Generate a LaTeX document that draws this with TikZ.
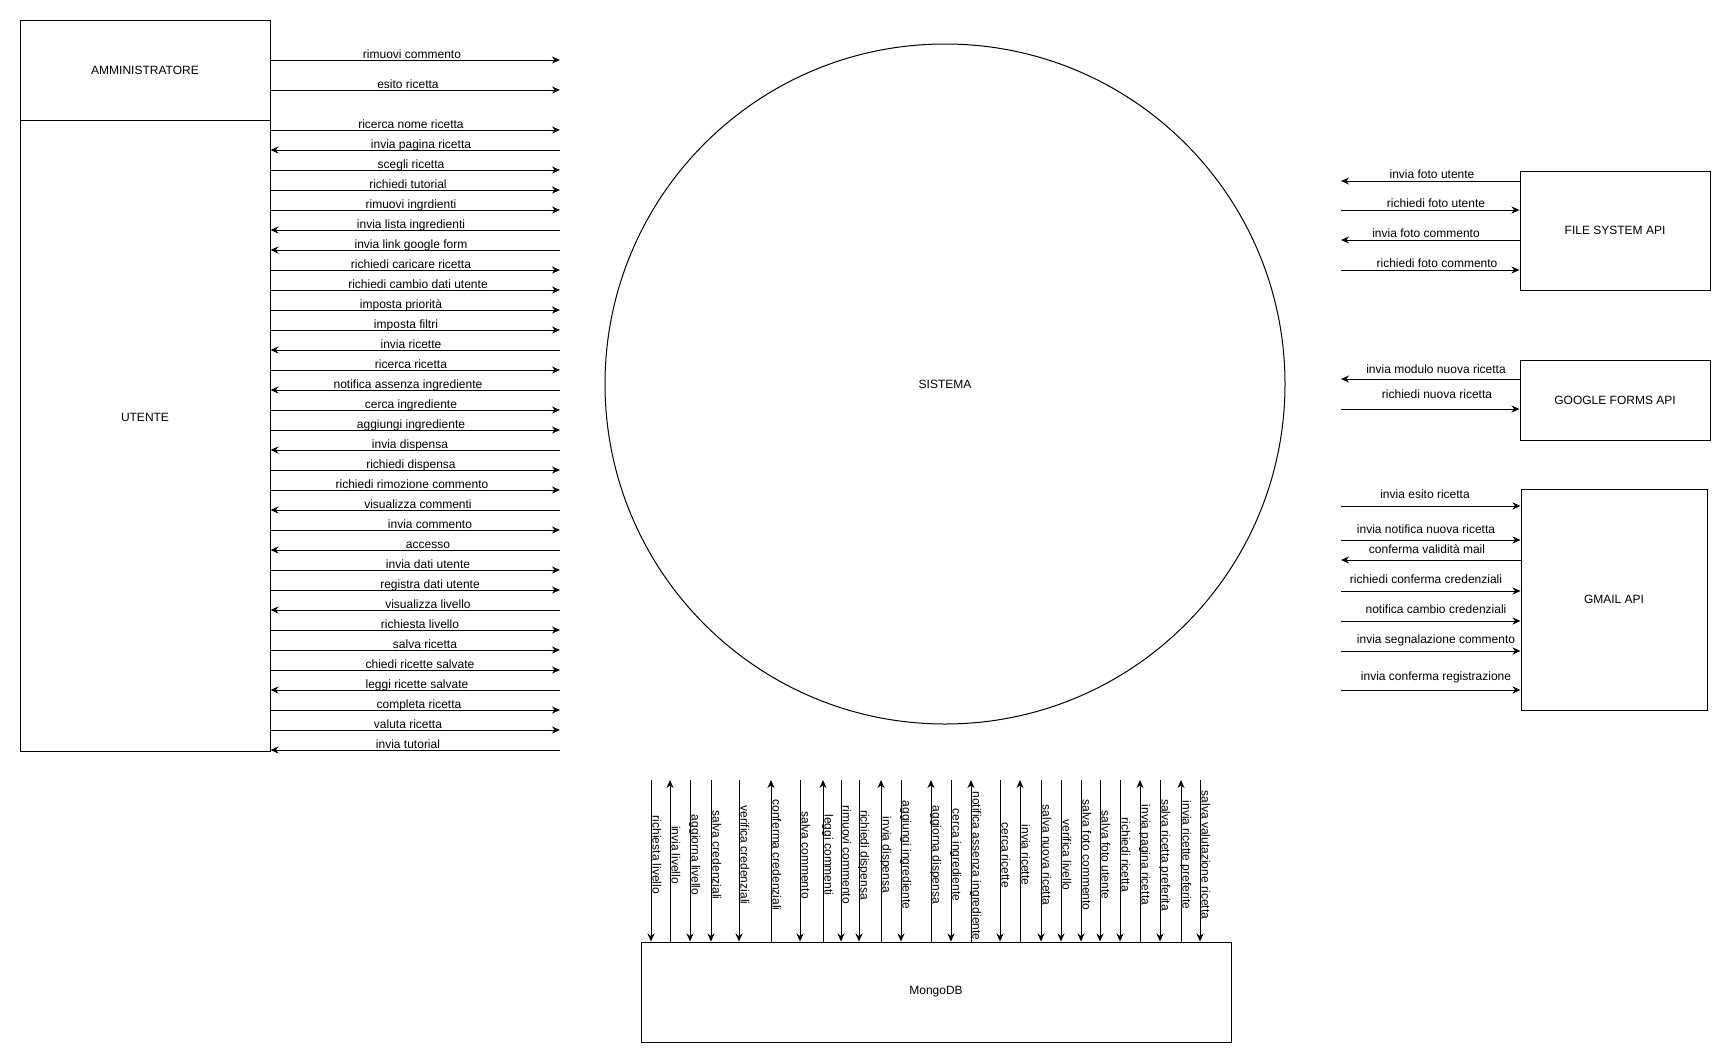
\documentclass[tikz,border=0pt]{standalone}
\usepackage{fontspec}
\setmainfont{Liberation Sans}
\usetikzlibrary{arrows.meta}
\tikzset{
  txt/.style={font=\fontsize{12}{14}\selectfont},
  box/.style={txt,draw=black,line width=1pt,fill=white,align=center,inner sep=0pt},
  fwd/.style={draw=black,line width=1pt,-{Stealth[length=8pt,width=7pt]}},
  rev/.style={draw=black,line width=1pt,{Stealth[length=8pt,width=7pt]}-},
  lbl/.style={txt,anchor=base,inner sep=0pt},
  vlbl/.style={lbl,rotate=-90}
}

\begin{document}
\begin{tikzpicture}[x=1pt,y=-1pt]
  \useasboundingbox (0,0) rectangle (1731,1063);
  \node[box,minimum width=250pt,minimum height=100pt] (admin) at (145,70) {AMMINISTRATORE};
  \node[box,minimum width=250pt,minimum height=631pt] (utente) at (145,435.5) {};
  \node[txt] (utentetxt) at (145,417) {UTENTE};
  \node[box,circle,minimum size=680pt] (sistema) at (945,384) {SISTEMA};
  \node[box,minimum width=190pt,minimum height=119pt] (filesys) at (1615,230.5) {FILE SYSTEM API};
  \node[box,minimum width=190pt,minimum height=80pt] (gforms) at (1615,400) {GOOGLE FORMS API};
  \node[box,minimum width=186pt,minimum height=221pt] (gmail) at (1614,599.5) {GMAIL API};
  \node[box,minimum width=590pt,minimum height=100pt] (mongo) at (936,992) {MongoDB};

  \foreach \yy/\xc/\t [count=\i] in {60/412/rimuovi commento,90/408/esito ricetta}{
    \coordinate (as\i) at (560,\yy);
    \coordinate (aa\i) at (admin.east |- as\i);
    \draw[fwd] (aa\i) -- (as\i);
    \node[lbl] (al\i) at (\xc,{\yy-1.5}) {\t};
  }

  \foreach \d/\xc/\t [count=\i] in {
    fwd/411/ricerca nome ricetta, rev/421/invia pagina ricetta, fwd/411/scegli ricetta,
    fwd/408/richiedi tutorial, fwd/411/rimuovi ingrdienti, rev/411/invia lista ingredienti,
    rev/411/invia link google form, fwd/411/richiedi caricare ricetta,
    fwd/418/richiedi cambio dati utente, fwd/401/imposta priorità, fwd/406/imposta filtri,
    rev/411/invia ricette, fwd/411/ricerca ricetta, rev/408/notifica assenza ingrediente,
    fwd/411/cerca ingrediente, fwd/411/aggiungi ingrediente, rev/410/invia dispensa,
    fwd/411/richiedi dispensa, fwd/412/richiedi rimozione commento,
    rev/418/visualizza commenti, fwd/430/invia commento, rev/428/accesso,
    fwd/428/invia dati utente, fwd/430/registra dati utente, rev/428/visualizza livello,
    fwd/420/richiesta livello, fwd/425/salva ricetta, fwd/420/chiedi ricette salvate,
    rev/417/leggi ricette salvate, fwd/419/completa ricetta, fwd/408/valuta ricetta,
    rev/408/invia tutorial}{
    \coordinate (us\i) at (560,{110+20*\i});
    \coordinate (ua\i) at (utente.east |- us\i);
    \draw[\d] (ua\i) -- (us\i);
    \node[lbl] (ul\i) at (\xc,{108.5+20*\i}) {\t};
  }

  \foreach \bx/\yy/\d/\lift/\xc/\t [count=\i] in {
    filesys/181/rev/3/1432/invia foto utente, filesys/210/fwd/3/1436/richiedi foto utente,
    filesys/240/rev/3/1426/invia foto commento, filesys/270/fwd/3/1437/richiedi foto commento,
    gforms/379/rev/6/1436/invia modulo nuova ricetta, gforms/409/fwd/11/1437/richiedi nuova ricetta,
    gmail/506/fwd/8/1425/invia esito ricetta, gmail/540/fwd/7/1426/invia notifica nuova ricetta,
    gmail/560/rev/7/1427/conferma validità mail, gmail/591/fwd/8/1426/richiedi conferma credenziali,
    gmail/621/fwd/8/1436/notifica cambio credenziali, gmail/651/fwd/8/1436/invia segnalazione commento,
    gmail/690/fwd/10/1436/invia conferma registrazione}{
    \coordinate (ra\i) at (1341,\yy);
    \coordinate (rb\i) at (\bx.west |- ra\i);
    \draw[\d] (ra\i) -- (rb\i);
    \node[lbl] (rl\i) at (\xc,{\yy-\lift}) {\t};
  }

  \foreach \xx/\d/\yc/\t [count=\i] in {
    651/fwd/855/richiesta livello, 670/rev/855/invia livello, 690/fwd/855/aggiorna livello,
    711/fwd/855/salva credenziali, 739/fwd/855/verifica credenziali,
    771/rev/855/conferma credenziali, 800/fwd/855/salva commento, 823/rev/855/leggi commenti,
    841/fwd/855/rimuovi commento, 859/fwd/855/richiedi dispensa, 881/rev/855/invia dispensa,
    901/fwd/855/aggiungi ingrediente, 931/rev/855/aggiorna dispensa,
    951/fwd/855/cerca ingrediente, 971/rev/866/notifica assenza ingrediente,
    1000/fwd/855/cerca ricette, 1020/rev/855/invia ricette, 1041/fwd/855/salva nuova ricetta,
    1061/fwd/855/verifica livello, 1081/fwd/855/salva foto commento,
    1100/fwd/855/salva foto utente, 1120/fwd/855/richiedi ricetta,
    1140/rev/855/invia pagina ricetta, 1160/fwd/855/salva ricetta preferita,
    1181/rev/855/invia ricette preferite, 1200/fwd/855/salva valutazione ricetta}{
    \coordinate (mt\i) at (\xx,780);
    \coordinate (mb\i) at (mt\i |- mongo.north);
    \draw[\d] (mt\i) -- (mb\i);
    \node[vlbl] (ml\i) at ({\xx+1.5},\yc) {\t};
  }
\end{tikzpicture}
\end{document}
